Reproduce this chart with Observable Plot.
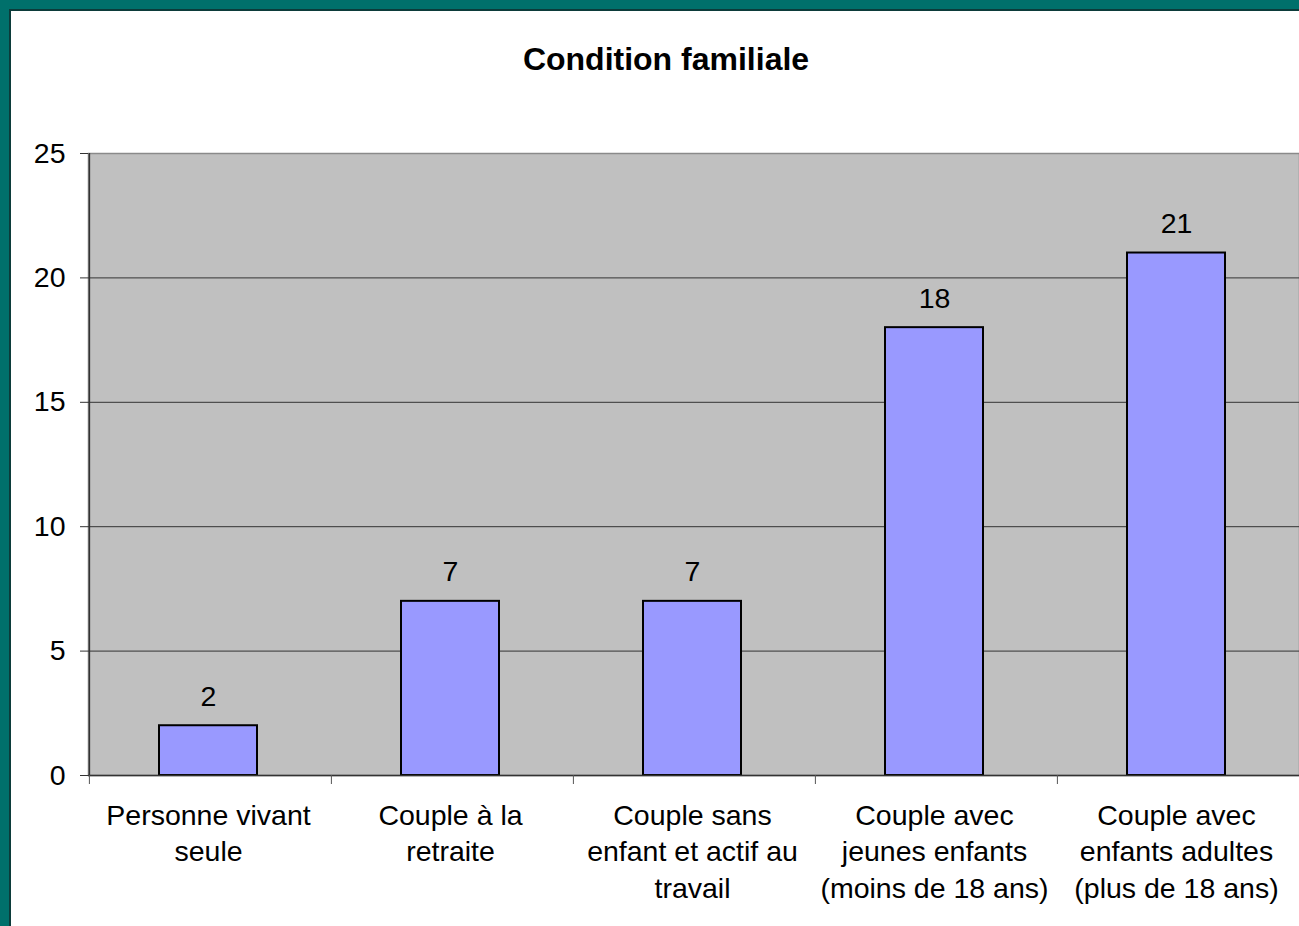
<!DOCTYPE html>
<html>
<head>
<meta charset="utf-8">
<script src="https://cdn.jsdelivr.net/npm/d3@7"></script>
<script src="https://cdn.jsdelivr.net/npm/@observablehq/plot@0.6"></script>
<style>
  html, body { margin: 0; padding: 0; width: 1299px; height: 926px; overflow: hidden; background: #00706b; font-family: "Liberation Sans", Arial, sans-serif; }
  #panel { position: absolute; left: 9px; top: 9px; width: 1300px; height: 930px; background: #fff; border-left: 2px solid #0c3b3a; border-top: 2px solid #0c3b3a; box-sizing: border-box; }
  #title { position: absolute; left: 466px; width: 400px; top: 41px; text-align: center; font-weight: bold; font-size: 32px; color: #000; }
  #chart { position: absolute; left: 0; top: 0; }
</style>
</head>
<body>
<div id="panel"></div>
<div id="title">Condition familiale</div>
<div id="chart"></div>
<script>
const categories = [
  "Personne vivant seule",
  "Couple à la retraite",
  "Couple sans enfant et actif au travail",
  "Couple avec jeunes enfants (moins de 18 ans)",
  "Couple avec enfants adultes (plus de 18 ans)"
];
const labelLines = [
  "Personne vivant\nseule",
  "Couple à la\nretraite",
  "Couple sans\nenfant et actif au\ntravail",
  "Couple avec\njeunes enfants\n(moins de 18 ans)",
  "Couple avec\nenfants adultes\n(plus de 18 ans)"
];
const values = [2, 7, 7, 18, 21];
const yTicks = [0, 5, 10, 15, 20, 25];

const data = categories.map((c, i) => ({category: c, value: values[i], label: labelLines[i]}));

const W = 1299, H = 926, mL = 88, mR = 0, mT = 153, mB = 151;
const bw = (W - mL - mR) / categories.length;

const chart = Plot.plot({
  width: W,
  height: H,
  marginLeft: mL,
  marginRight: mR,
  marginTop: mT,
  marginBottom: mB,
  style: {background: "transparent", fontFamily: "'Liberation Sans', Arial, sans-serif", fontSize: "28.5px", color: "#000"},
  x: {domain: categories, paddingInner: 0, paddingOuter: 0},
  y: {domain: [0, 25]},
  marks: [
    Plot.frame({fill: "#c0c0c0", stroke: "#8a8a8a", strokeWidth: 1.5}),
    Plot.gridY(yTicks.filter(t => t > 0 && t < 25), {stroke: "#333", strokeOpacity: 1, strokeWidth: 1}),
    Plot.barY(data, {x: "category", y: "value", fill: "#9999ff", stroke: "#000", strokeWidth: 2, insetLeft: 72, insetRight: 72, dx: -2}),
    Plot.text(data, {x: "category", y: "value", text: d => String(d.value), dy: -29, dx: -2, lineAnchor: "middle", fill: "#000"}),
    Plot.ruleY([0], {stroke: "#333", strokeWidth: 1.5}),
    Plot.ruleX([categories[0]], {dx: -bw / 2, stroke: "#333", strokeWidth: 1.5}),
    Plot.axisY({ticks: yTicks, tickSize: 8, tickPadding: 15, stroke: "#333", label: null, fontSize: 28.5}),
    Plot.axisX({ticks: categories, tickSize: 9, tickFormat: null, dx: -bw / 2, stroke: "#555", label: null}),
    Plot.text(data, {x: "category", y: 0, text: "label", dy: 23, dx: -2, lineAnchor: "top", lineHeight: 1.29, fill: "#000"})
  ]
});
document.getElementById("chart").appendChild(chart);
</script>
</body>
</html>
